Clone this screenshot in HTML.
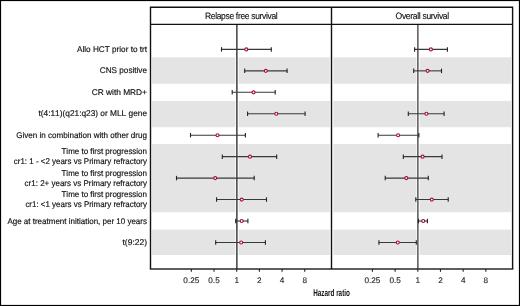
<!DOCTYPE html>
<html><head><meta charset="utf-8"><title>Forest plot</title>
<style>
html,body{margin:0;padding:0;background:#fff;width:520px;height:306px;overflow:hidden}
svg{display:block;will-change:transform}
text{font-family:"Liberation Sans",sans-serif;font-variant-ligatures:none;font-kerning:none;text-rendering:geometricPrecision}
</style></head><body>
<svg width="520" height="306" viewBox="0 0 520 306"><rect x="0" y="0" width="520" height="306" fill="#fff"/><rect x="152.0" y="57.3" width="83.30" height="26.50" fill="#e4e4e4"/><rect x="238.5" y="57.3" width="91.30" height="26.50" fill="#e4e4e4"/><rect x="333.3" y="57.3" width="83.10" height="26.50" fill="#e4e4e4"/><rect x="419.6" y="57.3" width="91.40" height="26.50" fill="#e4e4e4"/><rect x="152.0" y="100.9" width="83.30" height="26.30" fill="#e4e4e4"/><rect x="238.5" y="100.9" width="91.30" height="26.30" fill="#e4e4e4"/><rect x="333.3" y="100.9" width="83.10" height="26.30" fill="#e4e4e4"/><rect x="419.6" y="100.9" width="91.40" height="26.30" fill="#e4e4e4"/><rect x="152.0" y="144.0" width="83.30" height="68.20" fill="#e4e4e4"/><rect x="238.5" y="144.0" width="91.30" height="68.20" fill="#e4e4e4"/><rect x="333.3" y="144.0" width="83.10" height="68.20" fill="#e4e4e4"/><rect x="419.6" y="144.0" width="91.40" height="68.20" fill="#e4e4e4"/><rect x="152.0" y="229.6" width="83.30" height="25.40" fill="#e4e4e4"/><rect x="238.5" y="229.6" width="91.30" height="25.40" fill="#e4e4e4"/><rect x="333.3" y="229.6" width="83.10" height="25.40" fill="#e4e4e4"/><rect x="419.6" y="229.6" width="91.40" height="25.40" fill="#e4e4e4"/><line x1="236.85" y1="24.5" x2="236.85" y2="269.0" stroke="#555" stroke-width="1.7"/><line x1="417.85" y1="24.5" x2="417.85" y2="269.0" stroke="#6a6a6a" stroke-width="1.7"/><line x1="221.5" y1="49.40" x2="271.3" y2="49.40" stroke="#383838" stroke-width="1.1"/><line x1="221.5" y1="47.15" x2="221.5" y2="51.65" stroke="#222" stroke-width="1.1"/><line x1="271.3" y1="47.15" x2="271.3" y2="51.65" stroke="#222" stroke-width="1.1"/><circle cx="246.3" cy="49.40" r="1.5" fill="#fff" stroke="#a80f32" stroke-width="1.15"/><line x1="414.6" y1="49.40" x2="447.4" y2="49.40" stroke="#383838" stroke-width="1.1"/><line x1="414.6" y1="47.15" x2="414.6" y2="51.65" stroke="#222" stroke-width="1.1"/><line x1="447.4" y1="47.15" x2="447.4" y2="51.65" stroke="#222" stroke-width="1.1"/><circle cx="430.9" cy="49.40" r="1.5" fill="#fff" stroke="#a80f32" stroke-width="1.15"/><line x1="244.7" y1="70.85" x2="287.1" y2="70.85" stroke="#383838" stroke-width="1.1"/><line x1="244.7" y1="68.60" x2="244.7" y2="73.10" stroke="#222" stroke-width="1.1"/><line x1="287.1" y1="68.60" x2="287.1" y2="73.10" stroke="#222" stroke-width="1.1"/><circle cx="265.8" cy="70.85" r="1.5" fill="#fff" stroke="#a80f32" stroke-width="1.15"/><line x1="413.7" y1="70.85" x2="441.5" y2="70.85" stroke="#383838" stroke-width="1.1"/><line x1="413.7" y1="68.60" x2="413.7" y2="73.10" stroke="#222" stroke-width="1.1"/><line x1="441.5" y1="68.60" x2="441.5" y2="73.10" stroke="#222" stroke-width="1.1"/><circle cx="427.6" cy="70.85" r="1.5" fill="#fff" stroke="#a80f32" stroke-width="1.15"/><line x1="232.2" y1="92.30" x2="275.2" y2="92.30" stroke="#383838" stroke-width="1.1"/><line x1="232.2" y1="90.05" x2="232.2" y2="94.55" stroke="#222" stroke-width="1.1"/><line x1="275.2" y1="90.05" x2="275.2" y2="94.55" stroke="#222" stroke-width="1.1"/><circle cx="253.5" cy="92.30" r="1.5" fill="#fff" stroke="#a80f32" stroke-width="1.15"/><line x1="247.6" y1="113.76" x2="305.1" y2="113.76" stroke="#383838" stroke-width="1.1"/><line x1="247.6" y1="111.51" x2="247.6" y2="116.01" stroke="#222" stroke-width="1.1"/><line x1="305.1" y1="111.51" x2="305.1" y2="116.01" stroke="#222" stroke-width="1.1"/><circle cx="276.3" cy="113.76" r="1.5" fill="#fff" stroke="#a80f32" stroke-width="1.15"/><line x1="408.3" y1="113.76" x2="444.1" y2="113.76" stroke="#383838" stroke-width="1.1"/><line x1="408.3" y1="111.51" x2="408.3" y2="116.01" stroke="#222" stroke-width="1.1"/><line x1="444.1" y1="111.51" x2="444.1" y2="116.01" stroke="#222" stroke-width="1.1"/><circle cx="426.4" cy="113.76" r="1.5" fill="#fff" stroke="#a80f32" stroke-width="1.15"/><line x1="190.5" y1="135.21" x2="245.4" y2="135.21" stroke="#383838" stroke-width="1.1"/><line x1="190.5" y1="132.96" x2="190.5" y2="137.46" stroke="#222" stroke-width="1.1"/><line x1="245.4" y1="132.96" x2="245.4" y2="137.46" stroke="#222" stroke-width="1.1"/><circle cx="217.5" cy="135.21" r="1.5" fill="#fff" stroke="#a80f32" stroke-width="1.15"/><line x1="378.1" y1="135.21" x2="418.9" y2="135.21" stroke="#383838" stroke-width="1.1"/><line x1="378.1" y1="132.96" x2="378.1" y2="137.46" stroke="#222" stroke-width="1.1"/><line x1="418.9" y1="132.96" x2="418.9" y2="137.46" stroke="#222" stroke-width="1.1"/><circle cx="398.1" cy="135.21" r="1.5" fill="#fff" stroke="#a80f32" stroke-width="1.15"/><line x1="222.3" y1="156.66" x2="276.7" y2="156.66" stroke="#383838" stroke-width="1.1"/><line x1="222.3" y1="154.41" x2="222.3" y2="158.91" stroke="#222" stroke-width="1.1"/><line x1="276.7" y1="154.41" x2="276.7" y2="158.91" stroke="#222" stroke-width="1.1"/><circle cx="250.0" cy="156.66" r="1.5" fill="#fff" stroke="#a80f32" stroke-width="1.15"/><line x1="403.3" y1="156.66" x2="442.0" y2="156.66" stroke="#383838" stroke-width="1.1"/><line x1="403.3" y1="154.41" x2="403.3" y2="158.91" stroke="#222" stroke-width="1.1"/><line x1="442.0" y1="154.41" x2="442.0" y2="158.91" stroke="#222" stroke-width="1.1"/><circle cx="422.6" cy="156.66" r="1.5" fill="#fff" stroke="#a80f32" stroke-width="1.15"/><line x1="176.5" y1="178.11" x2="254.2" y2="178.11" stroke="#383838" stroke-width="1.1"/><line x1="176.5" y1="175.86" x2="176.5" y2="180.36" stroke="#222" stroke-width="1.1"/><line x1="254.2" y1="175.86" x2="254.2" y2="180.36" stroke="#222" stroke-width="1.1"/><circle cx="215.2" cy="178.11" r="1.5" fill="#fff" stroke="#a80f32" stroke-width="1.15"/><line x1="385.2" y1="178.11" x2="428.3" y2="178.11" stroke="#383838" stroke-width="1.1"/><line x1="385.2" y1="175.86" x2="385.2" y2="180.36" stroke="#222" stroke-width="1.1"/><line x1="428.3" y1="175.86" x2="428.3" y2="180.36" stroke="#222" stroke-width="1.1"/><circle cx="406.3" cy="178.11" r="1.5" fill="#fff" stroke="#a80f32" stroke-width="1.15"/><line x1="216.6" y1="199.56" x2="266.5" y2="199.56" stroke="#383838" stroke-width="1.1"/><line x1="216.6" y1="197.31" x2="216.6" y2="201.81" stroke="#222" stroke-width="1.1"/><line x1="266.5" y1="197.31" x2="266.5" y2="201.81" stroke="#222" stroke-width="1.1"/><circle cx="241.7" cy="199.56" r="1.5" fill="#fff" stroke="#a80f32" stroke-width="1.15"/><line x1="415.8" y1="199.56" x2="448.2" y2="199.56" stroke="#383838" stroke-width="1.1"/><line x1="415.8" y1="197.31" x2="415.8" y2="201.81" stroke="#222" stroke-width="1.1"/><line x1="448.2" y1="197.31" x2="448.2" y2="201.81" stroke="#222" stroke-width="1.1"/><circle cx="431.8" cy="199.56" r="1.5" fill="#fff" stroke="#a80f32" stroke-width="1.15"/><line x1="235.7" y1="221.02" x2="247.9" y2="221.02" stroke="#383838" stroke-width="1.1"/><line x1="235.7" y1="218.77" x2="235.7" y2="223.27" stroke="#222" stroke-width="1.1"/><line x1="247.9" y1="218.77" x2="247.9" y2="223.27" stroke="#222" stroke-width="1.1"/><circle cx="241.7" cy="221.02" r="1.5" fill="#fff" stroke="#a80f32" stroke-width="1.15"/><line x1="418.5" y1="221.02" x2="427.4" y2="221.02" stroke="#383838" stroke-width="1.1"/><line x1="418.5" y1="218.77" x2="418.5" y2="223.27" stroke="#222" stroke-width="1.1"/><line x1="427.4" y1="218.77" x2="427.4" y2="223.27" stroke="#222" stroke-width="1.1"/><circle cx="423.2" cy="221.02" r="1.5" fill="#fff" stroke="#a80f32" stroke-width="1.15"/><line x1="215.7" y1="242.47" x2="265.4" y2="242.47" stroke="#383838" stroke-width="1.1"/><line x1="215.7" y1="240.22" x2="215.7" y2="244.72" stroke="#222" stroke-width="1.1"/><line x1="265.4" y1="240.22" x2="265.4" y2="244.72" stroke="#222" stroke-width="1.1"/><circle cx="241.2" cy="242.47" r="1.5" fill="#fff" stroke="#a80f32" stroke-width="1.15"/><line x1="378.9" y1="242.47" x2="416.3" y2="242.47" stroke="#383838" stroke-width="1.1"/><line x1="378.9" y1="240.22" x2="378.9" y2="244.72" stroke="#222" stroke-width="1.1"/><line x1="416.3" y1="240.22" x2="416.3" y2="244.72" stroke="#222" stroke-width="1.1"/><circle cx="397.8" cy="242.47" r="1.5" fill="#fff" stroke="#a80f32" stroke-width="1.15"/><g fill="none" stroke="#111" stroke-width="1.4"><path d="M150.5 269.0 V7.2 H512.6 V269.0"/><line x1="149.8" y1="269.0" x2="513.3" y2="269.0" stroke="#2a2a2a"/><line x1="150.5" y1="24.4" x2="512.6" y2="24.4"/><line x1="331.5" y1="7.2" x2="331.5" y2="269.0"/></g><line x1="191.34" y1="269.0" x2="191.34" y2="271.8" stroke="#222" stroke-width="1.1"/><line x1="214.02" y1="269.0" x2="214.02" y2="271.8" stroke="#222" stroke-width="1.1"/><line x1="236.70" y1="269.0" x2="236.70" y2="271.8" stroke="#222" stroke-width="1.1"/><line x1="259.38" y1="269.0" x2="259.38" y2="271.8" stroke="#222" stroke-width="1.1"/><line x1="282.06" y1="269.0" x2="282.06" y2="271.8" stroke="#222" stroke-width="1.1"/><line x1="304.74" y1="269.0" x2="304.74" y2="271.8" stroke="#222" stroke-width="1.1"/><line x1="372.44" y1="269.0" x2="372.44" y2="271.8" stroke="#222" stroke-width="1.1"/><line x1="395.12" y1="269.0" x2="395.12" y2="271.8" stroke="#222" stroke-width="1.1"/><line x1="417.80" y1="269.0" x2="417.80" y2="271.8" stroke="#222" stroke-width="1.1"/><line x1="440.48" y1="269.0" x2="440.48" y2="271.8" stroke="#222" stroke-width="1.1"/><line x1="463.16" y1="269.0" x2="463.16" y2="271.8" stroke="#222" stroke-width="1.1"/><line x1="485.84" y1="269.0" x2="485.84" y2="271.8" stroke="#222" stroke-width="1.1"/><text x="191.34" y="282.65" text-anchor="middle" font-family="Liberation Sans" font-size="8.2" fill="#222" stroke="#222" stroke-width="0.12">0.25</text><text x="214.02" y="282.65" text-anchor="middle" font-family="Liberation Sans" font-size="8.2" fill="#222" stroke="#222" stroke-width="0.12">0.5</text><text x="236.70" y="282.65" text-anchor="middle" font-family="Liberation Sans" font-size="8.2" fill="#222" stroke="#222" stroke-width="0.12">1</text><text x="259.38" y="282.65" text-anchor="middle" font-family="Liberation Sans" font-size="8.2" fill="#222" stroke="#222" stroke-width="0.12">2</text><text x="282.06" y="282.65" text-anchor="middle" font-family="Liberation Sans" font-size="8.2" fill="#222" stroke="#222" stroke-width="0.12">4</text><text x="304.74" y="282.65" text-anchor="middle" font-family="Liberation Sans" font-size="8.2" fill="#222" stroke="#222" stroke-width="0.12">8</text><text x="372.44" y="282.65" text-anchor="middle" font-family="Liberation Sans" font-size="8.2" fill="#222" stroke="#222" stroke-width="0.12">0.25</text><text x="395.12" y="282.65" text-anchor="middle" font-family="Liberation Sans" font-size="8.2" fill="#222" stroke="#222" stroke-width="0.12">0.5</text><text x="417.80" y="282.65" text-anchor="middle" font-family="Liberation Sans" font-size="8.2" fill="#222" stroke="#222" stroke-width="0.12">1</text><text x="440.48" y="282.65" text-anchor="middle" font-family="Liberation Sans" font-size="8.2" fill="#222" stroke="#222" stroke-width="0.12">2</text><text x="463.16" y="282.65" text-anchor="middle" font-family="Liberation Sans" font-size="8.2" fill="#222" stroke="#222" stroke-width="0.12">4</text><text x="485.84" y="282.65" text-anchor="middle" font-family="Liberation Sans" font-size="8.2" fill="#222" stroke="#222" stroke-width="0.12">8</text><text x="241.2" y="18.6" text-anchor="middle" font-family="Liberation Sans" font-size="9.2" letter-spacing="-0.35" fill="#111" stroke="#111" stroke-width="0.14" textLength="72.5" lengthAdjust="spacingAndGlyphs">Relapse free survival</text><text x="422.2" y="18.6" text-anchor="middle" font-family="Liberation Sans" font-size="9.2" letter-spacing="-0.35" fill="#111" stroke="#111" stroke-width="0.14" textLength="53.3" lengthAdjust="spacingAndGlyphs">Overall survival</text><text x="77.0" y="51.7" font-family="Liberation Sans" font-size="8.3" fill="#111" stroke="#111" stroke-width="0.16" textLength="70.0" lengthAdjust="spacingAndGlyphs">Allo HCT prior to trt</text><text x="99.8" y="73.15" font-family="Liberation Sans" font-size="8.3" fill="#111" stroke="#111" stroke-width="0.16" textLength="47.2" lengthAdjust="spacingAndGlyphs">CNS positive</text><text x="91.7" y="94.6" font-family="Liberation Sans" font-size="8.3" fill="#111" stroke="#111" stroke-width="0.16" textLength="55.3" lengthAdjust="spacingAndGlyphs">CR with MRD+</text><text x="38.5" y="116.06" font-family="Liberation Sans" font-size="8.3" fill="#111" stroke="#111" stroke-width="0.16" textLength="108.5" lengthAdjust="spacingAndGlyphs">t(4:11)(q21:q23) or MLL gene</text><text x="16.2" y="137.51" font-family="Liberation Sans" font-size="8.3" fill="#111" stroke="#111" stroke-width="0.16" textLength="130.8" lengthAdjust="spacingAndGlyphs">Given in combination with other drug</text><text x="61.5" y="154.31" font-family="Liberation Sans" font-size="8.3" fill="#111" stroke="#111" stroke-width="0.16" textLength="85.5" lengthAdjust="spacingAndGlyphs">Time to first progression</text><text x="13.8" y="164.21" font-family="Liberation Sans" font-size="8.3" fill="#111" stroke="#111" stroke-width="0.16" textLength="133.2" lengthAdjust="spacingAndGlyphs">cr1: 1 - &lt;2 years vs Primary refractory</text><text x="61.5" y="176.01" font-family="Liberation Sans" font-size="8.3" fill="#111" stroke="#111" stroke-width="0.16" textLength="85.5" lengthAdjust="spacingAndGlyphs">Time to first progression</text><text x="24.6" y="185.91" font-family="Liberation Sans" font-size="8.3" fill="#111" stroke="#111" stroke-width="0.16" textLength="122.4" lengthAdjust="spacingAndGlyphs">cr1: 2+ years vs Primary refractory</text><text x="61.5" y="197.21" font-family="Liberation Sans" font-size="8.3" fill="#111" stroke="#111" stroke-width="0.16" textLength="85.5" lengthAdjust="spacingAndGlyphs">Time to first progression</text><text x="25.4" y="207.11" font-family="Liberation Sans" font-size="8.3" fill="#111" stroke="#111" stroke-width="0.16" textLength="121.6" lengthAdjust="spacingAndGlyphs">cr1: &lt;1 years vs Primary refractory</text><text x="7.4" y="223.97" font-family="Liberation Sans" font-size="8.3" fill="#111" stroke="#111" stroke-width="0.16" textLength="139.6" lengthAdjust="spacingAndGlyphs">Age at treatment initiation, per 10 years</text><text x="122.5" y="244.77" font-family="Liberation Sans" font-size="8.3" fill="#111" stroke="#111" stroke-width="0.16" textLength="24.5" lengthAdjust="spacingAndGlyphs">t(9:22)</text><text x="313.2" y="296.0" font-family="Liberation Sans" font-weight="bold" font-size="9.7" fill="#111" textLength="36.7" lengthAdjust="spacingAndGlyphs">Hazard ratio</text><rect x="0.5" y="0.5" width="519" height="305" fill="none" stroke="#000" stroke-width="1.2"/></svg>
</body></html>
